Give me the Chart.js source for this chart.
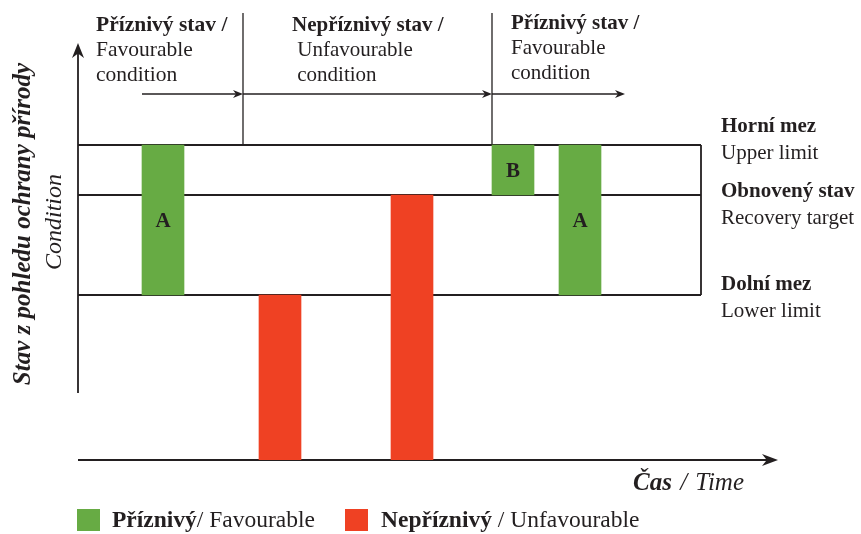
<!DOCTYPE html>
<html>
<head>
<meta charset="utf-8">
<script src="https://cdn.jsdelivr.net/npm/chart.js@4"></script>
<style>
    body { margin: 0; background: #fff; }
    #wrap { position: relative; width: 861px; height: 534px; font-family: "Liberation Serif", serif; color: #231f20; }
    #wrap canvas { position: absolute; left: 0; top: 0; }
    .lbl { position: absolute; font-size: 21px; line-height: 25px; white-space: nowrap; }
    .side { line-height: 26.5px; }
    .ytitle { position: absolute; white-space: nowrap; transform: translate(-50%, -50%) rotate(-90deg); }
    .box { position: absolute; width: 23px; height: 22px; }
</style>
</head>
<body>
<div id="wrap">
    <canvas id="condition-chart" width="861" height="534"></canvas>

    <div class="lbl" style="left:96px; top:12px; font-size:21.5px;"><b>Příznivý stav /</b><br>Favourable<br>condition</div>
    <div class="lbl" style="left:292px; top:12px;"><b>Nepříznivý stav /</b><br>&nbsp;Unfavourable<br>&nbsp;condition</div>
    <div class="lbl" style="left:511px; top:10px;"><b>Příznivý stav /</b><br>Favourable<br>condition</div>

    <div class="lbl side" style="left:721px; top:112px;"><b>Horní mez</b><br>Upper limit</div>
    <div class="lbl side" style="left:721px; top:177px;"><b>Obnovený stav</b><br>Recovery target</div>
    <div class="lbl side" style="left:721px; top:270px;"><b>Dolní mez</b><br>Lower limit</div>

    <div class="ytitle" style="left:22px; top:224px; font-size:25px; font-weight:bold; font-style:italic;">Stav z pohledu ochrany přírody</div>
    <div class="ytitle" style="left:53px; top:222px; font-size:24px; font-style:italic;">Condition</div>

    <div class="lbl" style="left:633px; top:469px; font-size:25px; font-style:italic; word-spacing:2px;"><b>Čas</b> / Time</div>

    <div class="box" style="left:77px; top:509px; background:#67ab44;"></div>
    <div class="lbl" style="left:112px; top:507px; font-size:23.5px;"><b>Příznivý</b>/ Favourable</div>
    <div class="box" style="left:345px; top:509px; background:#ef4123;"></div>
    <div class="lbl" style="left:381px; top:507px; font-size:23.5px;"><b>Nepříznivý</b> / Unfavourable</div>
</div>

<script>
// Bars: time position (x) and condition range (y)
const favourableTimes = [8.5, 43.5, 50.2];
const favourableRanges = [[3.3, 6.3], [5.3, 6.3], [3.3, 6.3]];
const favourableTags = ['A', 'B', 'A'];
const unfavourableTimes = [20.2, 33.4];
const unfavourableRanges = [[0, 3.3], [0, 5.3]];

// Condition levels: upper limit, recovery target, lower limit
const limitLevels = [6.3, 5.3, 3.3];
const limitEnd = 62.3;

// Period arrows above the box and the dividers between periods
const periodBounds = [6.4, 16.5, 41.4, 54.7];
const periodDividers = [16.5, 41.4];
const periodArrowLevel = 7.32;
const dividerTop = 8.94;

// Axis extents
const timeMax = 70;
const conditionMax = 8.3;
const conditionAxisStart = 1.34;

const ink = '#231f20';
const green = '#67ab44';
const red = '#ef4123';

function drawLine(ctx, x1, y1, x2, y2) {
    ctx.beginPath();
    ctx.moveTo(x1, y1);
    ctx.lineTo(x2, y2);
    ctx.stroke();
}

// Concave arrowhead pointing along angle
function drawHead(ctx, tx, ty, angle, len, half) {
    const dx = Math.cos(angle), dy = Math.sin(angle);
    const px = -dy, py = dx;
    ctx.beginPath();
    ctx.moveTo(tx, ty);
    ctx.lineTo(tx - dx * len + px * half, ty - dy * len + py * half);
    ctx.lineTo(tx - dx * len * 0.7, ty - dy * len * 0.7);
    ctx.lineTo(tx - dx * len - px * half, ty - dy * len - py * half);
    ctx.closePath();
    ctx.fill();
}

const diagramLines = {
    id: 'diagramLines',
    beforeDatasetsDraw(chart) {
        const { ctx, scales: { x, y } } = chart;
        ctx.save();
        ctx.strokeStyle = ink;
        ctx.fillStyle = ink;
        ctx.lineWidth = 1.8;

        const x0 = x.getPixelForValue(0);
        const xEnd = x.getPixelForValue(limitEnd);

        // Limit box and recovery line
        limitLevels.forEach(v => {
            const py = y.getPixelForValue(v);
            drawLine(ctx, x0, py, xEnd, py);
        });
        drawLine(ctx, xEnd, y.getPixelForValue(limitLevels[0]), xEnd, y.getPixelForValue(limitLevels[2]));

        // Period dividers
        ctx.lineWidth = 1.3;
        periodDividers.forEach(v => {
            const px = x.getPixelForValue(v);
            drawLine(ctx, px, y.getPixelForValue(dividerTop), px, y.getPixelForValue(limitLevels[0]));
        });

        // Period arrows
        const ay = y.getPixelForValue(periodArrowLevel);
        for (let i = 0; i < periodBounds.length - 1; i++) {
            const a = x.getPixelForValue(periodBounds[i]);
            const b = x.getPixelForValue(periodBounds[i + 1]);
            drawLine(ctx, a, ay, b - 4, ay);
            drawHead(ctx, b, ay, 0, 10, 4);
        }

        // Axes
        ctx.lineWidth = 1.8;
        const yTop = y.getPixelForValue(conditionMax);
        drawLine(ctx, x0, y.getPixelForValue(conditionAxisStart), x0, yTop + 6);
        drawHead(ctx, x0, yTop - 2, -Math.PI / 2, 15, 6);

        const y0 = y.getPixelForValue(0);
        const xTop = x.getPixelForValue(timeMax);
        drawLine(ctx, x0, y0, xTop - 6, y0);
        drawHead(ctx, xTop, y0, 0, 16, 6);
        ctx.restore();
    },
    afterDatasetsDraw(chart) {
        // Letters on the favourable bars
        const { ctx } = chart;
        const meta = chart.getDatasetMeta(0);
        ctx.save();
        ctx.fillStyle = ink;
        ctx.font = 'bold 21px "Liberation Serif"';
        ctx.textAlign = 'center';
        ctx.textBaseline = 'middle';
        meta.data.forEach((bar, i) => {
            const mid = (bar.y + bar.base) / 2;
            ctx.fillText(favourableTags[i], bar.x, mid + 2);
        });
        ctx.restore();
    }
};

const ctx = document.getElementById('condition-chart').getContext('2d');
const conditionChart = new Chart(ctx, {
    type: 'bar',
    data: {
        datasets: [
            {
                label: 'Příznivý / Favourable',
                data: favourableTimes.map((t, i) => ({ x: t, y: favourableRanges[i] })),
                backgroundColor: green,
                borderWidth: 0
            },
            {
                label: 'Nepříznivý / Unfavourable',
                data: unfavourableTimes.map((t, i) => ({ x: t, y: unfavourableRanges[i] })),
                backgroundColor: red,
                borderWidth: 0
            }
        ]
    },
    options: {
        responsive: false,
        animation: false,
        grouped: false,
        barThickness: 42,
        layout: { padding: { left: 78, right: 83, top: 45, bottom: 74 } },
        plugins: {
            legend: { display: false },
            tooltip: { enabled: false }
        },
        scales: {
            x: { type: 'linear', min: 0, max: timeMax, display: false, offset: false },
            y: { min: 0, max: conditionMax, display: false }
        }
    },
    plugins: [diagramLines]
});
</script>
</body>
</html>
